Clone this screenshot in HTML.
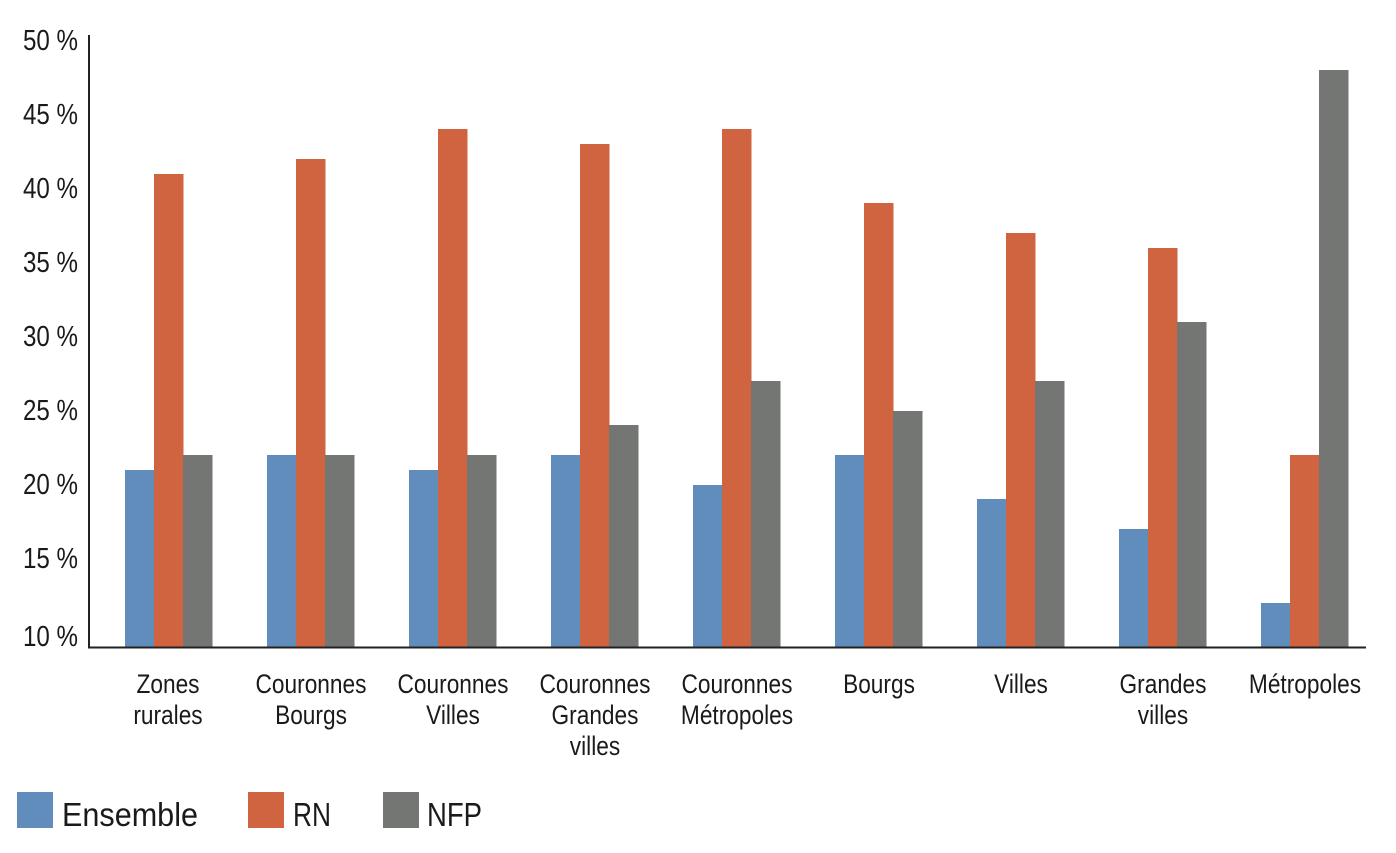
<!DOCTYPE html>
<html><head><meta charset="utf-8"><style>
html,body{margin:0;padding:0;background:#fff;}
svg text{font-family:"Liberation Sans",sans-serif;fill:#1a1a1a;}
</style></head><body>
<svg width="1396" height="848" xmlns="http://www.w3.org/2000/svg">
<g fill="#618dbd">
<rect x="125" y="470" width="29.5" height="178"/>
<rect x="267" y="455" width="29.5" height="193"/>
<rect x="409" y="470" width="29.5" height="178"/>
<rect x="551" y="455" width="29.5" height="193"/>
<rect x="693" y="485" width="29.5" height="163"/>
<rect x="835" y="455" width="29.5" height="193"/>
<rect x="977" y="499" width="29.5" height="149"/>
<rect x="1119" y="529" width="29.5" height="119"/>
<rect x="1261" y="603" width="29.5" height="45"/>
</g>
<g fill="#d06441">
<rect x="154" y="174" width="29.5" height="474"/>
<rect x="296" y="159" width="29.5" height="489"/>
<rect x="438" y="129" width="29.5" height="519"/>
<rect x="580" y="144" width="29.5" height="504"/>
<rect x="722" y="129" width="29.5" height="519"/>
<rect x="864" y="203" width="29.5" height="445"/>
<rect x="1006" y="233" width="29.5" height="415"/>
<rect x="1148" y="248" width="29.5" height="400"/>
<rect x="1290" y="455" width="29.5" height="193"/>
</g>
<g fill="#737673">
<rect x="183" y="455" width="29.5" height="193"/>
<rect x="325" y="455" width="29.5" height="193"/>
<rect x="467" y="455" width="29.5" height="193"/>
<rect x="609" y="425" width="29.5" height="223"/>
<rect x="751" y="381" width="29.5" height="267"/>
<rect x="893" y="411" width="29.5" height="237"/>
<rect x="1035" y="381" width="29.5" height="267"/>
<rect x="1177" y="322" width="29.5" height="326"/>
<rect x="1319" y="70" width="29.5" height="578"/>
</g>
<line x1="89" y1="35" x2="89" y2="648" stroke="#222" stroke-width="2"/>
<line x1="88" y1="647.5" x2="1366" y2="647.5" stroke="#222" stroke-width="2"/>
<g font-size="29">
<text x="23" y="50" textLength="55" lengthAdjust="spacingAndGlyphs">50 %</text>
<text x="23" y="124" textLength="55" lengthAdjust="spacingAndGlyphs">45 %</text>
<text x="23" y="198" textLength="55" lengthAdjust="spacingAndGlyphs">40 %</text>
<text x="23" y="272" textLength="55" lengthAdjust="spacingAndGlyphs">35 %</text>
<text x="23" y="346" textLength="55" lengthAdjust="spacingAndGlyphs">30 %</text>
<text x="23" y="420" textLength="55" lengthAdjust="spacingAndGlyphs">25 %</text>
<text x="23" y="494" textLength="55" lengthAdjust="spacingAndGlyphs">20 %</text>
<text x="23" y="568" textLength="55" lengthAdjust="spacingAndGlyphs">15 %</text>
<text x="23" y="646" textLength="55" lengthAdjust="spacingAndGlyphs">10 %</text>
</g>
<g font-size="27" text-anchor="middle">
<g transform="translate(168,0) scale(0.84,1)"><text x="0" y="693">Zones</text><text x="0" y="724">rurales</text></g>
<g transform="translate(311,0) scale(0.84,1)"><text x="0" y="693">Couronnes</text><text x="0" y="724">Bourgs</text></g>
<g transform="translate(453,0) scale(0.84,1)"><text x="0" y="693">Couronnes</text><text x="0" y="724">Villes</text></g>
<g transform="translate(595,0) scale(0.84,1)"><text x="0" y="693">Couronnes</text><text x="0" y="724">Grandes</text><text x="0" y="755">villes</text></g>
<g transform="translate(737,0) scale(0.84,1)"><text x="0" y="693">Couronnes</text><text x="0" y="724">Métropoles</text></g>
<g transform="translate(879,0) scale(0.84,1)"><text x="0" y="693">Bourgs</text></g>
<g transform="translate(1021,0) scale(0.84,1)"><text x="0" y="693">Villes</text></g>
<g transform="translate(1163,0) scale(0.84,1)"><text x="0" y="693">Grandes</text><text x="0" y="724">villes</text></g>
<g transform="translate(1305,0) scale(0.84,1)"><text x="0" y="693">Métropoles</text></g>
</g>
<rect x="17" y="792" width="36" height="36" fill="#618dbd"/>
<rect x="248" y="792" width="36" height="36" fill="#d06441"/>
<rect x="383" y="792" width="36" height="36" fill="#737673"/>
<g font-size="33">
<text x="62" y="826" textLength="136" lengthAdjust="spacingAndGlyphs">Ensemble</text>
<text x="293" y="826" textLength="38" lengthAdjust="spacingAndGlyphs">RN</text>
<text x="427" y="826" textLength="55" lengthAdjust="spacingAndGlyphs">NFP</text>
</g>
</svg>
</body></html>
